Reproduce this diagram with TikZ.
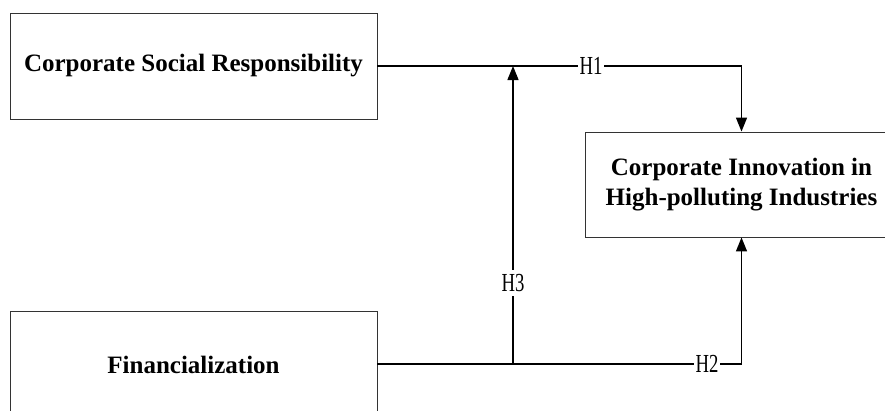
\documentclass[tikz,border=0pt]{standalone}
\usepackage{fontspec}
\setmainfont{Liberation Serif}
\usetikzlibrary{arrows.meta,calc}
\tikzset{
  boxnode/.style={draw=black!80, line width=0.9pt, inner sep=0pt, font=\fontsize{25}{30}\selectfont\bfseries, align=center},
  conn/.style={line width=1.4pt, black},
  tip/.style={-{Triangle[length=14pt,width=11pt]}},
  hlabel/.style={fill=white, inner xsep=2pt, inner ysep=4pt, font=\fontsize{26}{28}\selectfont}
}
\begin{document}
\begin{tikzpicture}[x=1pt,y=-1pt]
\useasboundingbox (0,0) rectangle (885,410);
\clip (0,0) rectangle (885,410);
% boxes
\node[boxnode, minimum width=367pt, minimum height=106pt] (csr) at (193.5,66) {Corporate Social Responsibility};
\node[boxnode, minimum width=367pt, minimum height=108pt] (fin) at (193.5,365) {Financialization};
\node[boxnode, minimum width=313pt, minimum height=105pt] (ci) at (741.5,184.5) {Corporate Innovation in\\High-polluting Industries};
% helper coordinates
\coordinate (j1) at (513,66);
\coordinate (j2) at (513,364);
\coordinate (c1) at (741.5,66);
\coordinate (c2) at (741.5,364);
% connectors
\draw[conn, tip] (csr.east |- j1) -- (c1) -- (ci.north -| c1);
\draw[conn, tip] (fin.east |- j2) -- (c2) -- (ci.south -| c2);
\draw[conn, tip] (j2) -- (j1);
% labels
\node[hlabel] (h1) at (591,66) {\scalebox{0.72}[1]{H1}};
\node[hlabel] (h2) at (707,364) {\scalebox{0.72}[1]{H2}};
\node[hlabel] (h3) at (513,283) {\scalebox{0.72}[1]{H3}};
\end{tikzpicture}
\end{document}
